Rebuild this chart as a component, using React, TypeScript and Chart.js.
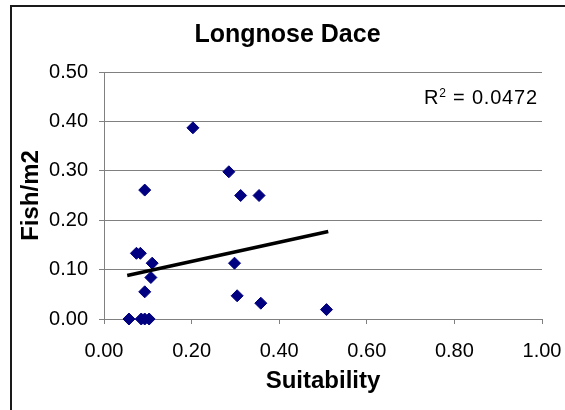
import React, { useEffect, useRef } from 'react';
import { Chart, registerables } from 'chart.js';

Chart.register(...registerables);

const FONT = "'Liberation Sans', Arial, Helvetica, sans-serif";

// Data
const suitability = [0.203, 0.285, 0.093, 0.312, 0.354, 0.074, 0.083, 0.110, 0.107, 0.093, 0.298, 0.304, 0.358, 0.508, 0.057, 0.085, 0.093, 0.103];
const fishPerM2 = [0.387, 0.298, 0.261, 0.250, 0.250, 0.133, 0.133, 0.113, 0.084, 0.055, 0.113, 0.047, 0.032, 0.019, 0, 0, 0, 0];
const trendX = [0.053, 0.512];
const trendY = [0.088, 0.177];
const xTicks = [0, 0.2, 0.4, 0.6, 0.8, 1.0];
const yTicks = [0, 0.1, 0.2, 0.3, 0.4, 0.5];
const chartTitle = 'Longnose Dace';
const xTitle = 'Suitability';
const yTitle = 'Fish/m2';
const r2Value = '0.0472';

export default function App() {
  const ref = useRef<HTMLCanvasElement>(null);

  useEffect(() => {
    document.body.style.margin = '0';
    const points = suitability.map((x, i) => ({ x, y: fishPerM2[i] }));
    const trend = trendX.map((x, i) => ({ x, y: trendY[i] }));

    const framePlugin = {
      id: 'frame',
      beforeDraw(chart: any) {
        const ctx = chart.ctx;
        ctx.save();
        ctx.fillStyle = '#ffffff';
        ctx.fillRect(0, 0, chart.width, chart.height);
        ctx.strokeStyle = '#1a1a1a';
        ctx.lineWidth = 2;
        ctx.beginPath();
        ctx.moveTo(11, chart.height + 2);
        ctx.lineTo(11, 6);
        ctx.lineTo(chart.width + 2, 6);
        ctx.stroke();
        ctx.restore();
      },
      afterDraw(chart: any) {
        const ctx = chart.ctx;
        const { right, top } = chart.chartArea;
        ctx.save();
        ctx.fillStyle = '#000';
        ctx.textBaseline = 'alphabetic';
        ctx.textAlign = 'left';
        try { (ctx as any).letterSpacing = '0.8px'; } catch (e) {}
        const baseY = top + 32;
        let x = right - 118;
        ctx.font = `20px ${FONT}`;
        ctx.fillText('R', x, baseY);
        x += ctx.measureText('R').width;
        ctx.font = `12px ${FONT}`;
        ctx.fillText('2', x, baseY - 7);
        x += ctx.measureText('2').width;
        ctx.font = `20px ${FONT}`;
        ctx.fillText(' = ' + r2Value, x, baseY);
        ctx.restore();
      },
    };

    const chart = new Chart(ref.current!, {
      type: 'scatter',
      data: {
        datasets: [
          {
            type: 'line',
            data: trend,
            borderColor: '#000000',
            borderWidth: 3.5,
            pointRadius: 0,
            showLine: true,
            fill: false,
            tension: 0,
          } as any,
          {
            type: 'scatter',
            data: points,
            pointStyle: 'rectRot',
            pointRadius: 6,
            backgroundColor: '#000080',
            borderColor: '#000080',
            borderWidth: 1,
            clip: false,
          } as any,
        ],
      },
      options: {
        animation: false,
        responsive: false,
        layout: { padding: { left: 33, right: 23, top: 0, bottom: 0 } },
        plugins: {
          legend: { display: false },
          tooltip: { enabled: false },
          title: {
            display: true,
            text: chartTitle,
            color: '#000',
            font: { family: FONT, size: 25, weight: 'bold', lineHeight: 1.2 },
            padding: { top: 20.5, bottom: 21.5 },
          },
        },
        scales: {
          x: {
            type: 'linear',
            min: 0,
            max: 1,
            afterBuildTicks: (s: any) => {
              s.ticks = xTicks.map((v) => ({ value: v }));
            },
            afterFit: (s: any) => {
              s.height = 91;
              s.paddingLeft = 0;
              s.paddingRight = 0;
            },
            ticks: {
              callback: (v: any) => Number(v).toFixed(2),
              color: '#000',
              font: { family: FONT, size: 20 },
              padding: 15,
              maxRotation: 0,
              autoSkip: false,
            },
            grid: { drawOnChartArea: false, drawTicks: true, tickLength: 5, color: '#808080' },
            border: { display: true, color: '#808080' },
            title: {
              display: true,
              text: xTitle,
              color: '#000',
              font: { family: FONT, size: 24, weight: 'bold', lineHeight: 1.2 },
              padding: { top: 0, bottom: 14 },
            },
          },
          y: {
            type: 'linear',
            min: 0,
            max: 0.5,
            afterBuildTicks: (s: any) => {
              s.ticks = yTicks.map((v) => ({ value: v }));
            },
            afterFit: (s: any) => {
              s.width = 71;
              s.paddingTop = 0;
              s.paddingBottom = 0;
            },
            ticks: {
              callback: (v: any) => Number(v).toFixed(2),
              color: '#000',
              font: { family: FONT, size: 20 },
              padding: 11,
              autoSkip: false,
            },
            grid: { drawOnChartArea: true, drawTicks: true, tickLength: 5, color: '#808080' },
            border: { display: true, color: '#808080' },
            title: {
              display: true,
              text: yTitle,
              color: '#000',
              font: { family: FONT, size: 24, weight: 'bold', lineHeight: 1.2 },
              padding: { top: -16.4, bottom: 0 },
            },
          },
        },
      },
      plugins: [framePlugin],
    } as any);

    return () => chart.destroy();
  }, []);

  return (
    <div style={{ width: 565, height: 410 }}>
      <canvas ref={ref} width={565} height={410} style={{ display: 'block' }} />
    </div>
  );
}
